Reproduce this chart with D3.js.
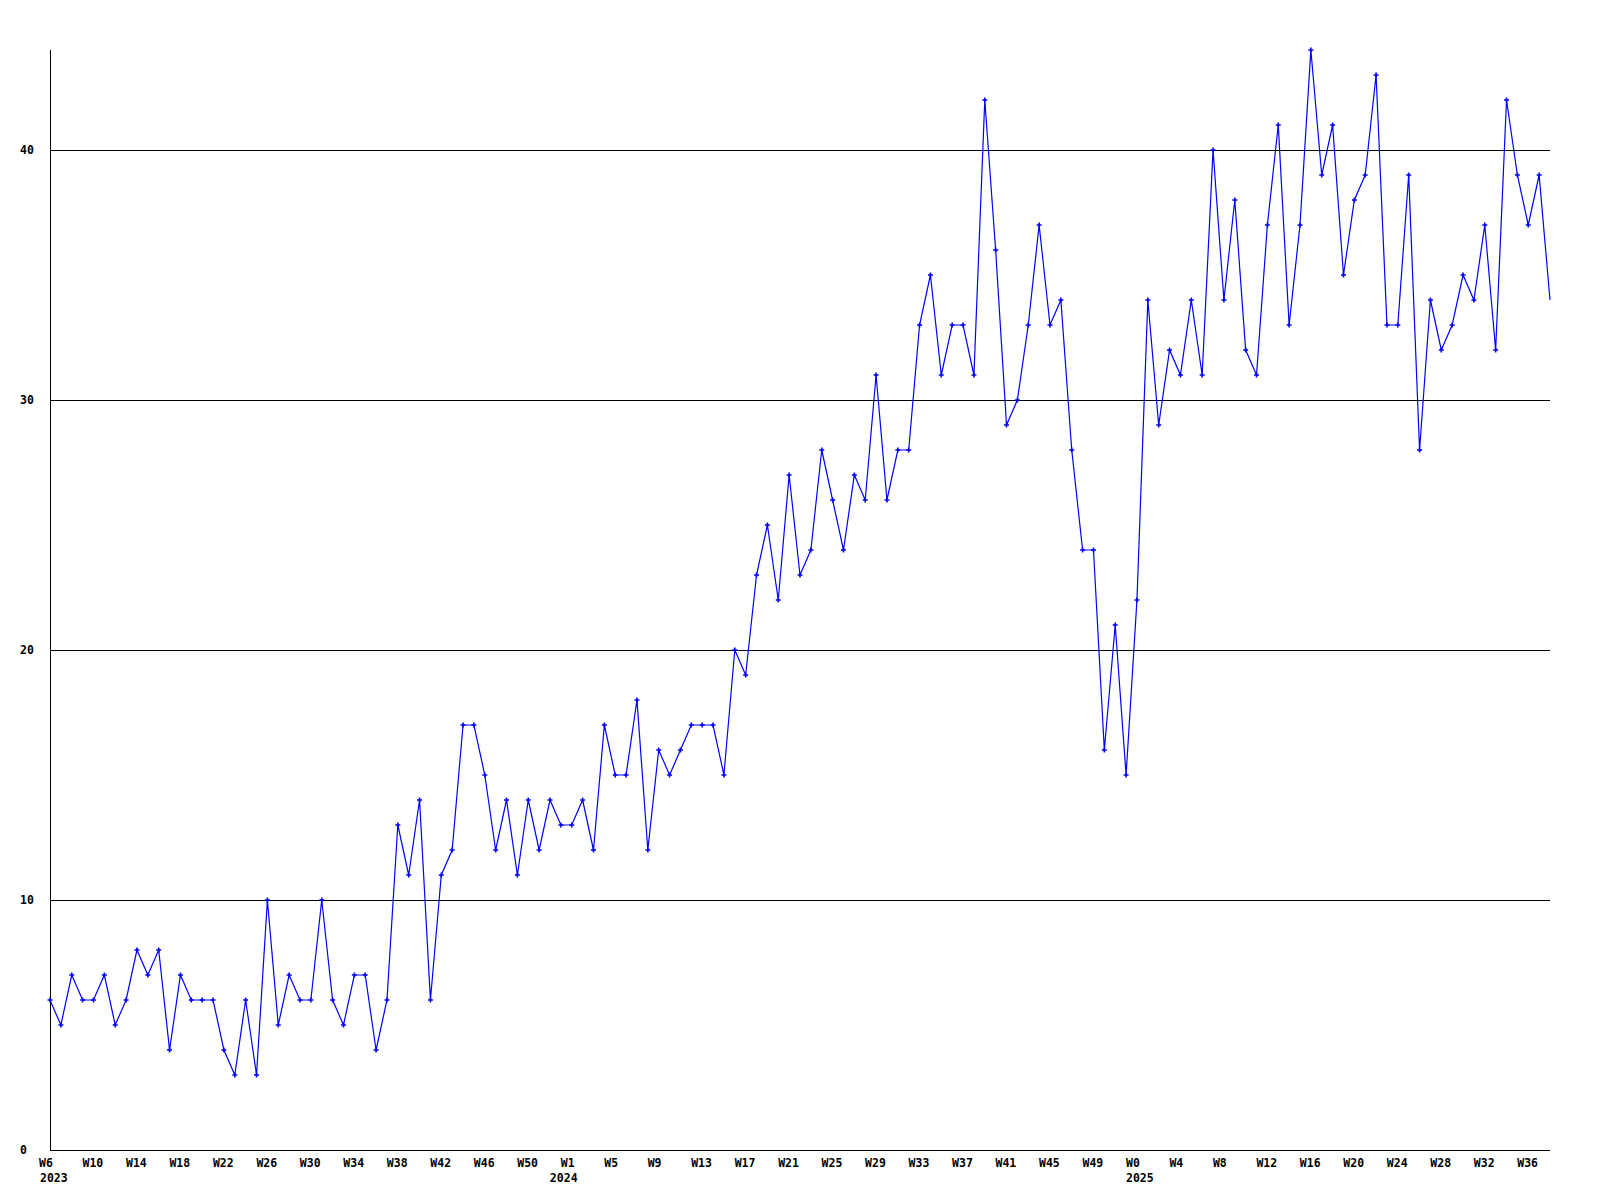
<!DOCTYPE html>
<html>
<head>
<meta charset="utf-8">
<script src="https://cdn.jsdelivr.net/npm/d3@7"></script>
<style>
  html, body { margin: 0; padding: 0; background: #fff; }
  svg text { font-family: "DejaVu Sans Mono", "Liberation Mono", monospace; font-weight: bold; font-size: 11.5px; fill: #000; }
</style>
</head>
<body>
<svg id="chart" width="1600" height="1200"></svg>
<script>
// Weekly values, 2023 W6 .. 2025 W38
const values = [
  6,5,7,6,6,7,5,6,8,7,
  8,4,7,6,6,6,4,3,6,3,
  10,5,7,6,6,10,6,5,7,7,
  4,6,13,11,14,6,11,12,17,17,
  15,12,14,11,14,12,14,13,13,14,
  12,17,15,15,18,12,16,15,16,17,
  17,17,15,20,19,23,25,22,27,23,
  24,28,26,24,27,26,31,26,28,28,
  33,35,31,33,33,31,42,36,29,30,
  33,37,33,34,28,24,24,16,21,15,
  22,34,29,32,31,34,31,40,34,38,
  32,31,37,41,33,37,44,39,41,35,
  38,39,43,33,33,39,28,34,32,33,
  35,34,37,32,42,39,37,39,34
];
// x tick labels every 4 weeks (index into values)
const tickIndex = [0,4,8,12,16,20,24,28,32,36,40,44,48,52,56,60,64,68,72,76,80,84,88,92,96,100,104,108,112,116,120,124,128,132,136];
const tickLabels = ["W6","W10","W14","W18","W22","W26","W30","W34","W38","W42","W46","W50",
  "W1","W5","W9","W13","W17","W21","W25","W29","W33","W37","W41","W45","W49",
  "W0","W4","W8","W12","W16","W20","W24","W28","W32","W36"];
const yearIndex = [0, 47, 100];
const yearLabels = ["2023", "2024", "2025"];
const yTicks = [0, 10, 20, 30, 40];

const svg = d3.select("#chart");
const x = d3.scaleLinear().domain([0, values.length - 1]).range([50, 1550]);
const y = d3.scaleLinear().domain([0, 44]).range([1150, 50]);

// gridlines
svg.append("g").selectAll("line").data(yTicks.filter(d => d > 0)).join("line")
  .attr("x1", 50).attr("x2", 1550)
  .attr("y1", d => Math.round(y(d)) + 0.5).attr("y2", d => Math.round(y(d)) + 0.5)
  .attr("stroke", "#000").attr("stroke-width", 1);

// axes lines
svg.append("line").attr("x1", 50.5).attr("x2", 50.5).attr("y1", 50).attr("y2", 1150.5)
  .attr("stroke", "#000");
svg.append("line").attr("x1", 50).attr("x2", 1550).attr("y1", 1150.5).attr("y2", 1150.5)
  .attr("stroke", "#000");

// y labels
svg.append("g").selectAll("text").data(yTicks).join("text")
  .attr("x", 20).attr("y", d => y(d) + 4)
  .text(d => d);

// x labels
svg.append("g").selectAll("text").data(tickIndex).join("text")
  .attr("x", d => x(d) - 11).attr("y", 1167)
  .text((d, i) => tickLabels[i]);
svg.append("g").selectAll("text").data(yearIndex).join("text")
  .attr("x", d => x(d) - 11 + (d === 0 ? 1 : 0)).attr("y", 1182)
  .text((d, i) => yearLabels[i]);

// line
const line = d3.line().x((d, i) => x(i)).y(d => y(d));
svg.append("path").datum(values)
  .attr("d", line)
  .attr("fill", "none")
  .attr("stroke", "#0000ff")
  .attr("stroke-width", 1.2);

// markers
svg.append("g").selectAll("path").data(values.slice(0, values.length - 1)).join("path")
  .attr("transform", (d, i) => `translate(${x(i)},${y(d)})`)
  .attr("d", "M-2.5,-0.8H-0.8V-2.5H0.8V-0.8H2.5V0.8H0.8V2.5H-0.8V0.8H-2.5Z")
  .attr("fill", "#0000ff");
</script>
</body>
</html>
